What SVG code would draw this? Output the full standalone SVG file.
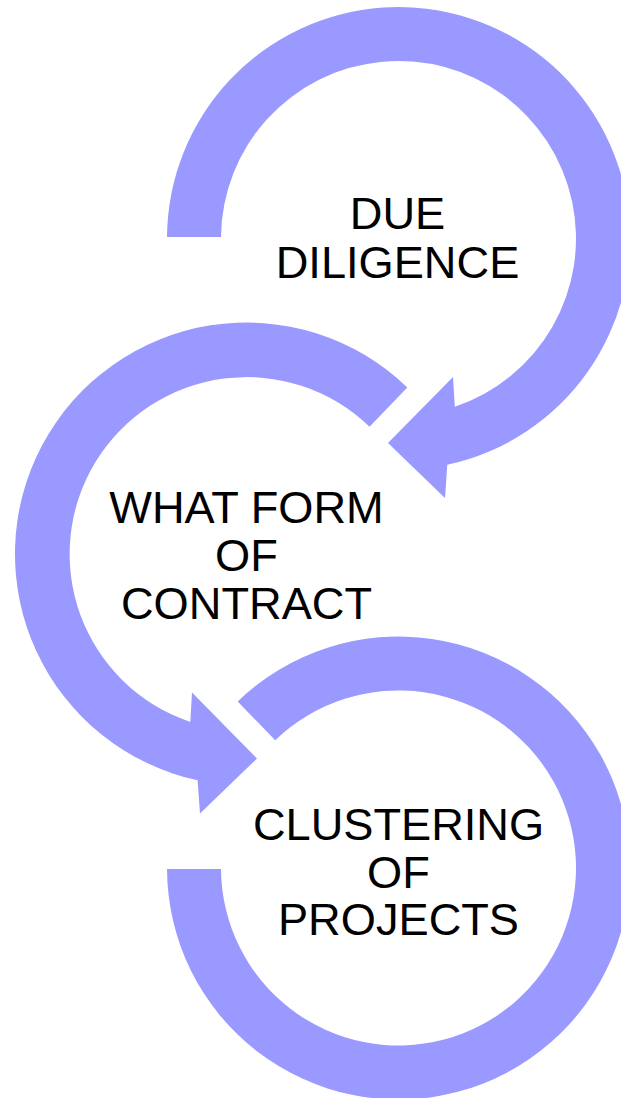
<svg xmlns="http://www.w3.org/2000/svg" width="621" height="1098" viewBox="0 0 621 1098">
<style>
.arc{fill:#9999FF;stroke:none}
.lbl{font-family:"Liberation Sans",Arial,sans-serif;font-size:45.2px;fill:#000;text-anchor:middle}
</style>
<rect width="621" height="1098" fill="#fff"/>
<g id="connectors">
<path id="arrow1" class="arc" d="M167,237 A231.5,231.5 0 1 1 447.3,464.8 L445,498 L388,443 L453,377 L454.8,406.8 A177.5,177.5 0 1 0 221,237 Z"/>
<path id="arrow2" class="arc" d="M407.3,387.5 A231.5,231.5 0 1 0 197.6,780.3 L200,813.5 L257,758.5 L192,692.5 L190.3,721.9 A177,177 0 1 1 369.5,426.7 Z"/>
<path id="arc3" class="arc" d="M237.7,701.5 A231.5,231.5 0 1 1 167,869 L221,869 A177.5,177.5 0 1 0 275.2,740.3 Z"/>
</g>
<g id="node1">
<text class="lbl" x="397.5" y="229">DUE</text>
<text class="lbl" x="397.5" y="278">DILIGENCE</text>
</g>
<g id="node2">
<text class="lbl" x="246.5" y="523">WHAT FORM</text>
<text class="lbl" x="246.5" y="571">OF</text>
<text class="lbl" x="246.5" y="619">CONTRACT</text>
</g>
<g id="node3">
<text class="lbl" x="398.5" y="840">CLUSTERING</text>
<text class="lbl" x="398.5" y="888">OF</text>
<text class="lbl" x="398.5" y="935">PROJECTS</text>
</g>
</svg>
